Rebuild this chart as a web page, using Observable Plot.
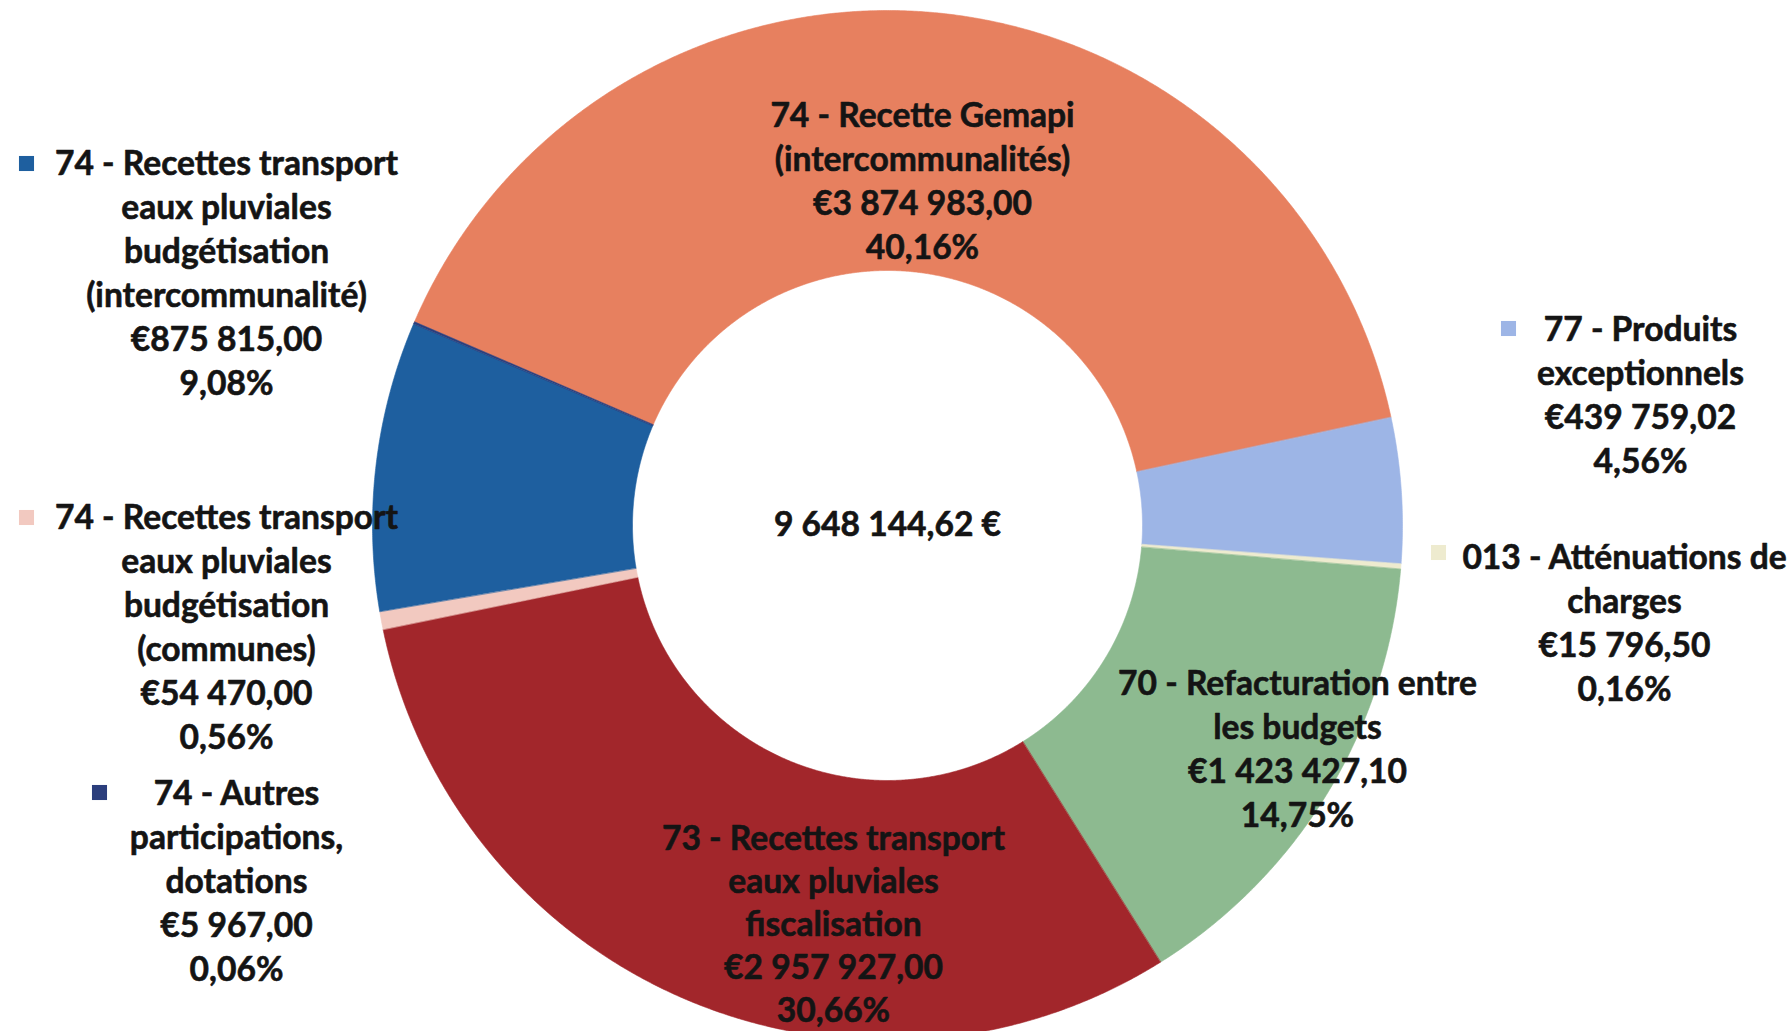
<!DOCTYPE html>
<html>
<head>
<meta charset="utf-8">
<script src="https://cdn.jsdelivr.net/npm/d3@7"></script>
<script src="https://cdn.jsdelivr.net/npm/@observablehq/plot@0.6"></script>
<style>
  html, body { margin: 0; padding: 0; background: #ffffff; }
  #chart svg { display: block; }
</style>
</head>
<body>
<div id="chart"></div>
<script>
// ---------------- data ----------------
const categories = [
  "74 - Recette Gemapi (intercommunalités)",
  "77 - Produits exceptionnels",
  "013 - Atténuations de charges",
  "70 - Refacturation entre les budgets",
  "73 - Recettes transport eaux pluviales fiscalisation",
  "74 - Recettes transport eaux pluviales budgétisation (communes)",
  "74 - Recettes transport eaux pluviales budgétisation (intercommunalité)",
  "74 - Autres participations, dotations"
];
const values = [3874983.00, 439759.02, 15796.50, 1423427.10, 2957927.00, 54470.00, 875815.00, 5967.00];
const colors = ["#E7805F", "#9DB5E6", "#EEEBCF", "#8DBA90", "#A2262B", "#F2C9C0", "#1E5F9F", "#2B3E7C"];

// wrapped label text (as laid out in the chart)
const labelLines = [
  ["74 - Recette Gemapi", "(intercommunalités)"],
  ["77 - Produits", "exceptionnels"],
  ["013 - Atténuations de", "charges"],
  ["70 - Refacturation entre", "les budgets"],
  ["73 - Recettes transport", "eaux pluviales", "fiscalisation"],
  ["74 - Recettes transport", "eaux pluviales", "budgétisation", "(communes)"],
  ["74 - Recettes transport", "eaux pluviales", "budgétisation", "(intercommunalité)"],
  ["74 - Autres", "participations,", "dotations"]
];

// ---------------- layout ----------------
const W = 1790, H = 1031;
const cx = 887, cy = 525, R = 515, R0 = 255;
const startDeg = -66.7;
const lineH = 44;
// label block: centre x, first-line y, line height (pixels)
const labelAnchor = [[922, 112, 44], [1640, 326, 44], [1624, 554, 44], [1297, 680, 44], [833, 836, 43], [226, 514, 44], [226, 160, 44], [236, 790, 44]];
// legend key squares (pixels), null = none
const legendKey = [null, [1508, 328], [1438, 552], null, null, [26, 517], [26, 163], [99, 792]];

// font sizing to match reference text width
const fontFamily = "Lato, 'Open Sans', sans-serif";
const ctx = document.createElement("canvas").getContext("2d");
ctx.font = "bold 100px Lato";
const measured = ctx.measureText("74 - Recettes transport").width;
const fontSize = Math.round(100 * 343 / measured * 10) / 10;

// ---------------- formatting ----------------
const fr = d3.formatLocale({decimal: ",", thousands: "\u00a0", grouping: [3], currency: ["€", ""]});
const fmtMoney = fr.format("$,.2f");
const fmtNum = fr.format(",.2f");
const total = d3.sum(values);

// ---------------- geometry ----------------
const rows = categories.map((c, i) => ({category: c, value: values[i], i}));
const pie = d3.pie().value(d => d.value).sort(null)
  .startAngle(startDeg * Math.PI / 180)
  .endAngle(startDeg * Math.PI / 180 + 2 * Math.PI);
const arcs = pie(rows);
const polys = [];
const step = 0.25 * Math.PI / 180;
for (const a of arcs) {
  const n = Math.max(2, Math.ceil((a.endAngle - a.startAngle) / step) + 1);
  for (let k = 0; k < n; k++) {
    const t = a.startAngle + (a.endAngle - a.startAngle) * k / (n - 1);
    polys.push({category: a.data.category, x: Math.sin(t), y: Math.cos(t)});
  }
  for (let k = n - 1; k >= 0; k--) {
    const t = a.startAngle + (a.endAngle - a.startAngle) * k / (n - 1);
    polys.push({category: a.data.category, x: Math.sin(t) * R0 / R, y: Math.cos(t) * R0 / R});
  }
}

const px2x = p => (p - cx) / R;
const px2y = p => (cy - p) / R;

const labels = rows.map((d, i) => {
  const lines = [...labelLines[i], fmtMoney(d.value), fmtNum(d.value / total * 100) + "%"];
  const [ax, ay, lh] = labelAnchor[i];
  return {
    category: d.category,
    text: lines.join("\n"),
    lh,
    x: px2x(ax),
    y: px2y(ay + (lines.length - 1) * lh / 2)
  };
});
const keys = rows.filter((d, i) => legendKey[i]).map(d => ({
  category: d.category, x: px2x(legendKey[d.i][0]), y: px2y(legendKey[d.i][1])
}));

const textStyle = {fontSize, fontWeight: "bold", fontFamily, textAnchor: "middle", lineAnchor: "middle",
  fill: "#141414", stroke: "#141414", strokeWidth: 0.6};

const chart = Plot.plot({
  width: W,
  height: H,
  margin: 0,
  style: {background: "#ffffff", fontFamily, overflow: "visible"},
  x: {domain: [-cx / R, (W - cx) / R], range: [0, W], axis: null},
  y: {domain: [-(H - cy) / R, cy / R], range: [H, 0], axis: null},
  color: {domain: categories, range: colors, legend: false},
  marks: [
    Plot.line(polys, {x: "x", y: "y", z: "category", fill: "category", stroke: "category", strokeWidth: 0.6, curve: "linear-closed"}),
    Plot.dot(keys, {x: "x", y: "y", fill: "category", symbol: "square", r: 8.5, stroke: null}),
    ...d3.groups(labels, d => d.lh).map(([lh, g]) =>
      Plot.text(g, {x: "x", y: "y", text: "text", lineHeight: lh / fontSize, ...textStyle})),
    Plot.text([total], {x: () => 0, y: () => 0, text: d => fmtNum(d) + " €", ...textStyle})
  ]
});
document.getElementById("chart").appendChild(chart);
</script>
</body>
</html>
